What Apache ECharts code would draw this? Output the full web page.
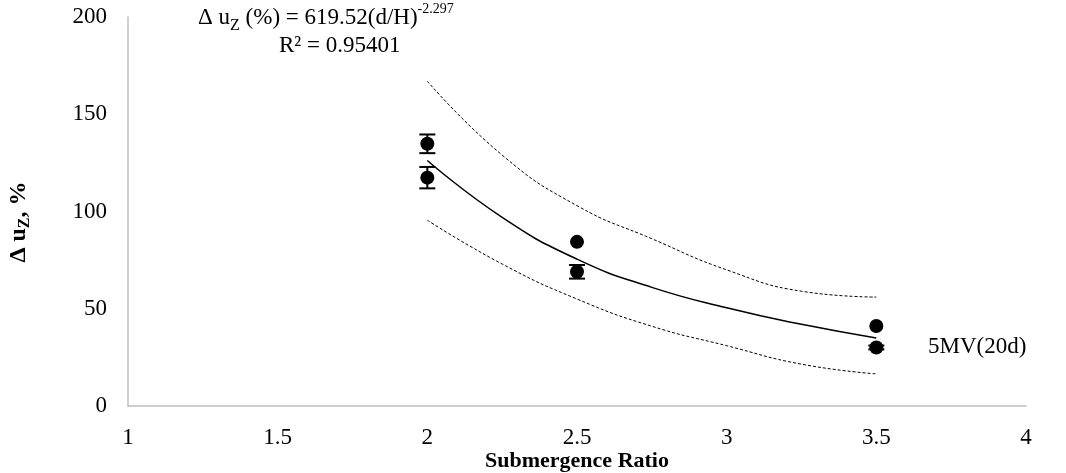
<!DOCTYPE html>
<html>
<head>
<meta charset="utf-8">
<script src="https://cdn.jsdelivr.net/npm/echarts@6/dist/echarts.min.js"></script>
<style>
html,body{margin:0;padding:0;background:#fff;}
#c{width:1066px;height:473px;}
</style>
</head>
<body>
<div id="c"></div>
<script>
// ---- data ----
const pointX = [2, 2, 2.5, 2.5, 3.5, 3.5];
const pointY = [134.8, 117.4, 84.4, 69.0, 41.1, 30.1];
const pointErr = [4.8, 5.5, 0, 3.5, 0, 1.0];

const curveX = [2.0, 2.25, 2.5, 2.75, 3.0, 3.25, 3.5];
const fitY   = [126.2, 97.0, 75.5, 61.0, 50.5, 42.0, 35.0];
const upperY = [167, 129, 103, 86, 70, 59, 56];
const lowerY = [95.5, 73, 55, 41, 31, 21.5, 16.5];

const xTicks = {min: 1, max: 4, interval: 0.5};
const yTicks = {min: 0, max: 200, interval: 50};

const FONT = '"Liberation Serif", "Times New Roman", serif';

const zip = (xs, ys) => xs.map((x, i) => [x, ys[i]]);

const chart = echarts.init(document.getElementById('c'), null, {renderer: 'canvas'});

chart.setOption({
  animation: false,
  backgroundColor: '#ffffff',
  grid: {left: 128, right: 40, top: 17, bottom: 67, containLabel: false},
  xAxis: {
    type: 'value', min: xTicks.min, max: xTicks.max, interval: xTicks.interval,
    axisLine: {show: true, onZero: false, lineStyle: {color: '#bfbfbf', width: 1.5}},
    axisTick: {show: false},
    splitLine: {show: false},
    axisLabel: {color: '#000', fontFamily: FONT, fontSize: 23, margin: 20}
  },
  yAxis: {
    type: 'value', min: yTicks.min, max: yTicks.max, interval: yTicks.interval,
    axisLine: {show: true, onZero: false, lineStyle: {color: '#bfbfbf', width: 1.5}},
    axisTick: {show: false},
    splitLine: {show: false},
    axisLabel: {color: '#000', fontFamily: FONT, fontSize: 23, margin: 21}
  },
  series: [
    {
      type: 'line', data: zip(curveX, upperY), smooth: true, symbol: 'none',
      lineStyle: {color: '#000', width: 1, type: [3, 2]}, z: 2
    },
    {
      type: 'line', data: zip(curveX, lowerY), smooth: true, symbol: 'none',
      lineStyle: {color: '#000', width: 1, type: [3, 2]}, z: 2
    },
    {
      type: 'line', data: zip(curveX, fitY), smooth: true, symbol: 'none',
      lineStyle: {color: '#000', width: 1.5}, z: 3
    },
    {
      type: 'custom',
      data: pointX.map((x, i) => [x, pointY[i], pointErr[i]]),
      z: 4,
      renderItem: function (params, api) {
        const x = api.value(0), y = api.value(1), e = api.value(2);
        if (!e) return {type: 'group', children: []};
        const top = api.coord([x, y + e]);
        const bot = api.coord([x, y - e]);
        const hw = 8;
        const style = {stroke: '#000', lineWidth: 2};
        return {
          type: 'group',
          children: [
            {type: 'line', shape: {x1: top[0], y1: top[1], x2: bot[0], y2: bot[1]}, style: style},
            {type: 'line', shape: {x1: top[0] - hw, y1: top[1], x2: top[0] + hw, y2: top[1]}, style: style},
            {type: 'line', shape: {x1: bot[0] - hw, y1: bot[1], x2: bot[0] + hw, y2: bot[1]}, style: style}
          ]
        };
      }
    },
    {
      type: 'scatter', data: zip(pointX, pointY), symbol: 'circle', symbolSize: 14,
      itemStyle: {color: '#000', opacity: 1}, z: 5
    }
  ],
  graphic: [
    {
      type: 'text', left: 198, top: 2,
      style: {
        text: '{a|Δ u}{s|Z}{a| (%) = 619.52(d/H)}{p|-2.297}',
        rich: {
          a: {fontFamily: FONT, fontSize: 23, fill: '#000', lineHeight: 32, verticalAlign: 'middle'},
          s: {fontFamily: FONT, fontSize: 16, fill: '#000', lineHeight: 32, verticalAlign: 'bottom'},
          p: {fontFamily: FONT, fontSize: 14, fill: '#000', lineHeight: 32, verticalAlign: 'top'}
        }
      }
    },
    {
      type: 'text', left: 279, top: 34,
      style: {text: 'R² = 0.95401', font: '23px ' + FONT, fill: '#000'}
    },
    {
      type: 'text', x: 928, y: 347,
      style: {text: '5MV(20d)', font: '23px ' + FONT, fill: '#000', verticalAlign: 'middle'}
    },
    {
      type: 'text', x: 577, y: 461,
      style: {text: 'Submergence Ratio', font: 'bold 22px ' + FONT, fill: '#000', align: 'center', verticalAlign: 'middle'}
    },
    {
      type: 'text', x: 19, y: 222, rotation: Math.PI / 2,
      style: {
        text: '{a|Δ u}{s|Z}{a|, %}',
        align: 'center', verticalAlign: 'middle',
        rich: {
          a: {fontFamily: FONT, fontSize: 24, fontWeight: 'bold', fill: '#000', lineHeight: 28, verticalAlign: 'middle'},
          s: {fontFamily: FONT, fontSize: 16, fontWeight: 'bold', fill: '#000', lineHeight: 28, verticalAlign: 'bottom'}
        }
      }
    }
  ]
});
</script>
</body>
</html>
